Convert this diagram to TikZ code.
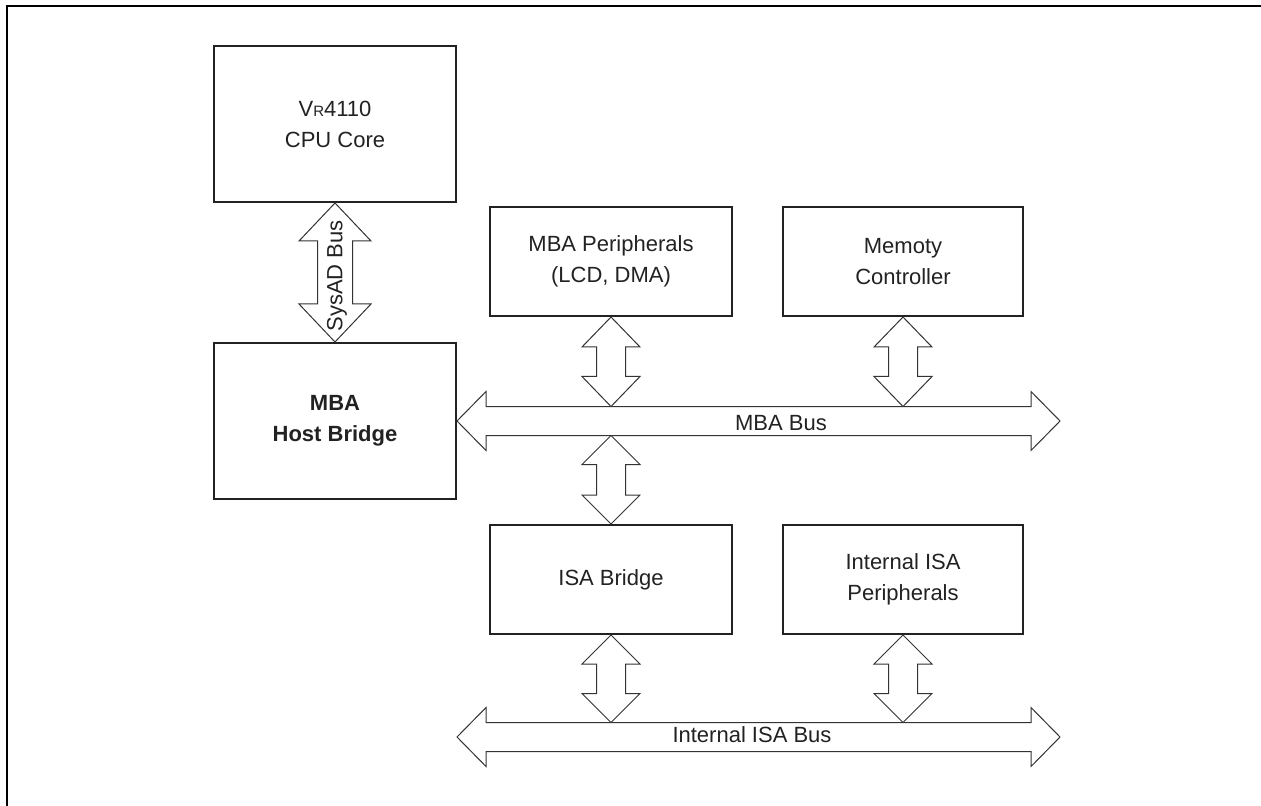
\documentclass[tikz,border=0pt]{standalone}
\usepackage{fontspec}
\setmainfont{Liberation Sans}
\usepackage{tikz}
\usetikzlibrary{calc, positioning}
\definecolor{inkdark}{HTML}{222222}
\definecolor{inkbus}{HTML}{333333}

% hollow double arrows: #1 first tip, #2 second tip, #3 half shaft, #4 half head, #5 head length
\newcommand{\vbus}[5]{%
  \draw[busline] (#1) -- ++(#4,#5) -- ++(#3-#4,0) -- ($(#2)+(#3,-#5)$) -- ++(#4-#3,0)
    -- (#2) -- ++(-#4,-#5) -- ++(#4-#3,0) -- ($(#1)+(-#3,#5)$) -- ++(#3-#4,0) -- cycle;}
\newcommand{\hbus}[5]{%
  \draw[busline] (#1) -- ++(#5,-#4) -- ++(0,#4-#3) -- ($(#2)+(-#5,-#3)$) -- ++(0,#3-#4)
    -- (#2) -- ++(-#5,#4) -- ++(0,#3-#4) -- ($(#1)+(#5,#3)$) -- ++(0,#4-#3) -- cycle;}

\begin{document}
\begin{tikzpicture}[x=0.5pt, y=-0.5pt, font=\fontsize{11}{15.5}\selectfont,
  block/.style={draw=inkdark, line width=1pt, text=inkdark, align=center,
                minimum width=121pt, minimum height=54.5pt, inner sep=0pt},
  bigblock/.style={block, minimum height=78pt},
  busline/.style={draw=inkbus, line width=0.5pt, fill=white, line join=miter},
  buslabel/.style={text=inkdark, inner sep=1pt}
]
\useasboundingbox (0,0) rectangle (1261,806);
% ---- frame --------------------------------------------------------------
\draw[line width=1.2pt] (7,806) -- (7,6) -- (1261,6);

% ---- blocks -------------------------------------------------------------
\node[bigblock] (cpu)  at (335,124) {V{\fontsize{7.5}{8}\selectfont R}4110\\CPU Core};
\node[bigblock] (host) at (335,421) {\textbf{MBA}\\\textbf{Host Bridge}};
\node[block] (mbap) at (611,261.5) {MBA Peripherals\\(LCD, DMA)};
\node[block, minimum width=120pt] (mem) at (903,261.5) {Memoty\\Controller};
\node[block] (isab) at (611,579.5) {ISA Bridge};
\node[block, minimum width=120pt] (isap) at (903,579.5) {Internal ISA\\Peripherals};

% ---- bus ends -----------------------------------------------------------
\coordinate (mbaL) at (host.east);
\coordinate (mbaR) at (1060,421);
\path (mbaL) ++(0,-14.5) coordinate (mbatop) ++(0,29) coordinate (mbabot);
\coordinate (isaL) at (457,737);
\coordinate (isaR) at (1060,737);
\path (isaL) ++(0,-14.5) coordinate (isatop);

% ---- buses --------------------------------------------------------------
\hbus{mbaL}{mbaR}{14.5}{29.5}{29}
\hbus{isaL}{isaR}{14.5}{29.5}{29}
\vbus{cpu.south}{host.north}{17.5}{36}{38}
\vbus{mbap.south}{mbap.south |- mbatop}{14.5}{29}{30}
\vbus{mem.south}{mem.south |- mbatop}{14.5}{29}{30}
\vbus{isab.north |- mbabot}{isab.north}{14.5}{29}{29}
\vbus{isab.south}{isab.south |- isatop}{14.5}{29}{29}
\vbus{isap.south}{isap.south |- isatop}{14.5}{29}{29}

% ---- labels -------------------------------------------------------------
\node[buslabel, rotate=90] (sysad) at (337,276) {SysAD Bus};
\node[buslabel] (mbabus) at (781,423) {MBA Bus};
\node[buslabel] (isabus) at (752,735) {Internal ISA Bus};
\end{tikzpicture}
\end{document}
